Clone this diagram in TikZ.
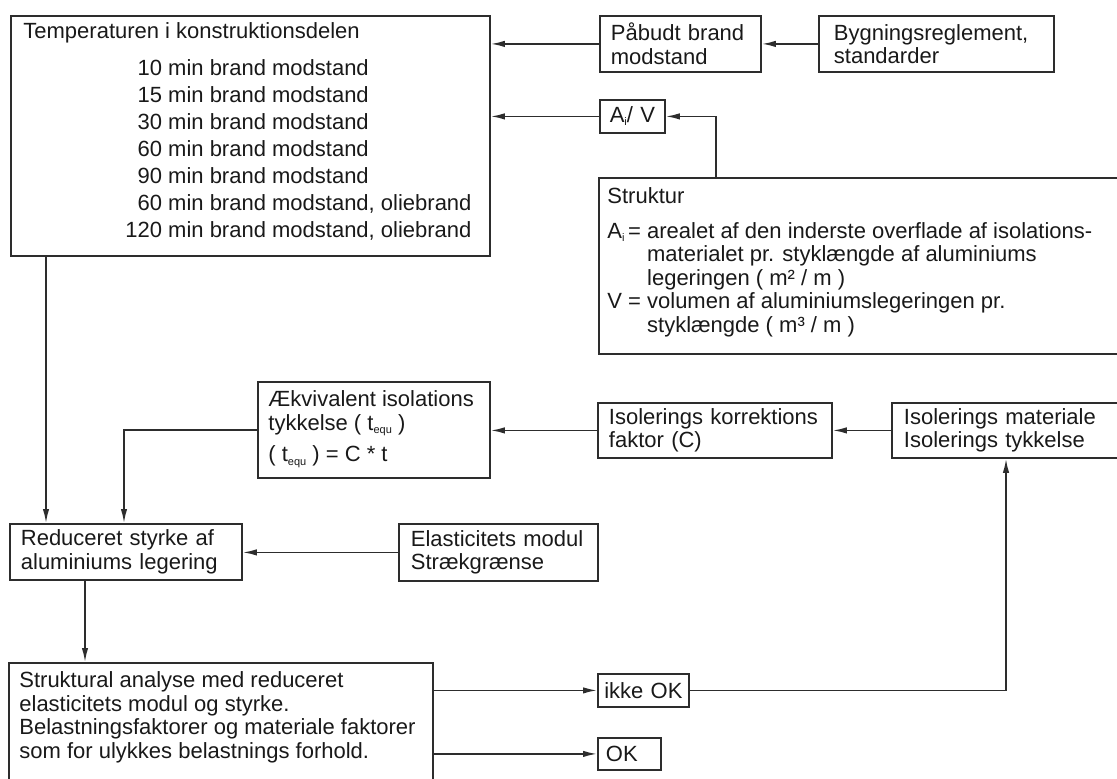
\documentclass[tikz,border=0pt]{standalone}
\usepackage{fontspec}
\setmainfont{Liberation Sans}
\usetikzlibrary{arrows.meta}
\definecolor{flowline}{RGB}{45,45,45}
\definecolor{flowtext}{RGB}{25,25,25}
\newcommand{\lowidx}[1]{\raisebox{-1.6pt}{\fontsize{5.5}{6}\selectfont #1}}

\begin{document}
\begin{tikzpicture}[x=0.5pt,y=-0.5pt,
  blk/.style 2 args={draw=flowline,line width=0.9pt,anchor=north west,align=left,
    inner xsep=5.5pt,inner ysep=0pt,text width=#1,minimum height=#2,
    font=\fontsize{11}{11.75}\selectfont,text=flowtext},
  txt/.style={anchor=north west,inner sep=0pt,align=left,
    font=\fontsize{11}{11.75}\selectfont,text=flowtext},
  arr/.style={draw=flowline,line width=0.8pt,-{Latex[length=7pt,width=3.2pt]}}]
  \useasboundingbox (0,0) rectangle (1117,778);
  \clip (0,0) rectangle (1117,778);

  % boxes
  \node[blk={228.5pt}{120pt}] (temp) at (10,15) {};
  \node[blk={69.5pt}{28pt}] (pab) at (599,15) {Påbudt brand\\modstand};
  \node[blk={102.5pt}{28pt},inner xsep=7.5pt] (byg) at (818,15) {Bygningsreglement,\\standarder};
  \node[blk={24.5pt}{16.5pt},inner xsep=4pt,align=center] (av) at (599,99) {A\lowidx{i}/ V};
  \node[blk={259pt}{88pt}] (strk) at (598,177) {};
  \node[blk={105pt}{48pt}] (aekv) at (257,381) {};
  \node[blk={106pt}{27.5pt}] (korr) at (597,402) {Isolerings korrektions\\faktor (C)};
  \node[blk={113pt}{27.5pt},inner xsep=6pt] (isomat) at (891,402) {Isolerings materiale\\Isolerings tykkelse};
  \node[blk={105pt}{28pt}] (red) at (9,523) {Reduceret styrke af\\aluminiums legering};
  \node[blk={87.5pt}{28.5pt},inner xsep=6pt] (elast) at (398,523) {Elasticitets modul\\Strækgrænse};
  \node[blk={201pt}{70pt}] (anal) at (8,662) {};
  \node[blk={39.5pt}{16.5pt},inner xsep=3pt,align=center] (ikke) at (597,673) {ikke OK};
  \node[blk={23.5pt}{16pt},inner xsep=4pt] (ok) at (597,737) {OK};

  % texts of the large boxes
  \node[txt,anchor=base west] (tempT) at ([shift={(13,23)}]temp.north west) {Temperaturen i konstruktionsdelen};
  \node[txt,font=\fontsize{11}{13.5}\selectfont] (tempL) at ([shift={(115,41)}]temp.north west) {%
    \begin{tabular}{@{}r@{ }l@{}}
      10 & min brand modstand\\
      15 & min brand modstand\\
      30 & min brand modstand\\
      60 & min brand modstand\\
      90 & min brand modstand\\
      60 & min brand modstand, oliebrand\\
      120 & min brand modstand, oliebrand
    \end{tabular}};
  \node[txt] (strkT) at ([shift={(9,9.5)}]strk.north west) {%
    \begin{tabular}{@{}l@{ }l@{}}
      \multicolumn{2}{@{}l@{}}{Struktur}\\[5.75pt]
      A\lowidx{i}\,= & arealet af den inderste overflade af isolations-\\
       & materialet pr. styklængde af aluminiums\\
       & legeringen ( m² / m )\\
      V = & volumen af aluminiumslegeringen pr.\\
       & styklængde ( m³ / m )
    \end{tabular}};
  \node[txt] (aekvT) at ([shift={(11,9.5)}]aekv.north west) {Ækvivalent isolations\\tykkelse ( t\lowidx{equ} )\\[4pt]( t\lowidx{equ} ) = C * t};
  \node[txt] (analT) at ([shift={(11,9.5)}]anal.north west) {Struktural analyse med reduceret\\elasticitets modul og styrke.\\Belastningsfaktorer og materiale faktorer\\som for ulykkes belastnings forhold.};

  % connectors
  \draw[arr] (byg.west) -- (pab.east);
  \draw[arr] (pab.west) -- (pab.west -| temp.east);
  \draw[arr] (av.west) -- (av.west -| temp.east);
  \draw[arr] ([xshift=59pt]strk.north west) |- (av.east);
  \draw[arr] ([xshift=18pt]temp.south west) -- ([xshift=18pt]temp.south west |- red.north);
  \draw[arr] (aekv.west) -| ([xshift=57.5pt]red.north west);
  \draw[arr] (korr.west) -- (korr.west -| aekv.east);
  \draw[arr] (isomat.west) -- (korr.east);
  \draw[arr] (elast.west) -- (elast.west -| red.east);
  \draw[arr] ([xshift=38pt]red.south west) -- ([xshift=38pt]red.south west |- anal.north);
  \draw[arr] (anal.east |- ikke.west) -- (ikke.west);
  \draw[arr] (anal.east |- ok.west) -- (ok.west);
  \draw[arr] (ikke.east) -| ([xshift=57.5pt]isomat.south west);
\end{tikzpicture}
\end{document}
